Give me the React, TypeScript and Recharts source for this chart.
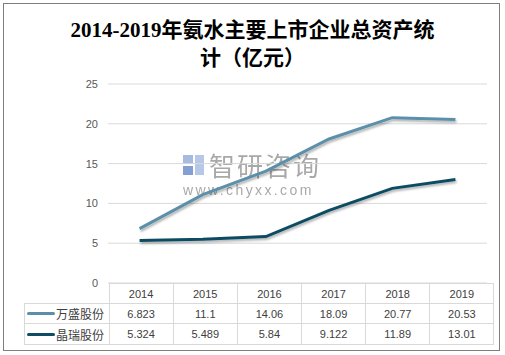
import React from 'react';
import { LineChart, Line, XAxis, YAxis, CartesianGrid } from 'recharts';

const YEARS = ['2014', '2015', '2016', '2017', '2018', '2019'];
const WANSHENG = [6.823, 11.1, 14.06, 18.09, 20.77, 20.53];
const JINGRUI = [5.324, 5.489, 5.84, 9.122, 11.89, 13.01];
const SERIES_NAMES = ['万盛股份', '晶瑞股份'];
const SERIES_COLORS = ['#5b8fa9', '#0d4c63'];
const Y_TICKS = [0, 5, 10, 15, 20, 25];

const data = YEARS.map((year, i) => ({ year, ws: WANSHENG[i], jr: JINGRUI[i] }));
const tableRows = [WANSHENG, JINGRUI];

const W = 505;
const H = 355;
const PLOT_LEFT = 108;
const PLOT_RIGHT = 487;
const PLOT_TOP = 84;
const PLOT_BOTTOM = 283;
const COL_W = (PLOT_RIGHT - PLOT_LEFT) / YEARS.length;
const ROW_H = [20, 20, 21];

const cellBorder = '1px solid #d9d9d9';
const sans = "'Liberation Sans', 'Noto Sans CJK SC', sans-serif";

export default function App() {
  return (
    <div style={{ position: 'absolute', left: 0, top: 0, width: W, height: H, background: '#fff', overflow: 'hidden' }}>
      <div
        style={{
          position: 'absolute', left: 3, top: 3, width: 497, height: 348,
          boxSizing: 'border-box', border: '1px solid #7f7f7f',
        }}
      />
      <div
        style={{
          position: 'absolute', left: 0, top: 16, width: W, textAlign: 'center',
          fontFamily: "'Liberation Serif', 'Noto Sans CJK SC', serif", fontWeight: 'bold',
          fontSize: 21, lineHeight: '28px', color: '#000',
        }}
      >
        <div>2014-2019年氨水主要上市企业总资产统</div>
        <div>计（亿元）</div>
      </div>

      {/* watermark */}
      <div style={{ position: 'absolute', left: 183, top: 153, opacity: 0.75 }}>
        <div style={{ display: 'flex', alignItems: 'center', height: 24 }}>
          <div style={{ width: 22, height: 22, position: 'relative', marginRight: 4 }}>
            <div style={{ position: 'absolute', left: 0, top: 1, width: 10, height: 9, background: '#8aa3d6' }} />
            <div style={{ position: 'absolute', left: 0, top: 12, width: 10, height: 9, background: '#5b7fc4' }} />
            <div style={{ position: 'absolute', left: 12, top: 1, width: 9, height: 20, background: '#9fb5e0' }} />
          </div>
          <span style={{ fontFamily: "'Noto Sans CJK SC'", fontSize: 26, letterSpacing: 2, color: '#8c8c8c', lineHeight: '24px' }}>
            智研咨询
          </span>
        </div>
        <div style={{ fontFamily: sans, fontSize: 14, lineHeight: '14px', letterSpacing: 2.4, color: '#8c8c8c', marginTop: 6 }}>
          www.chyxx.com
        </div>
      </div>

      <div style={{ position: 'absolute', left: 0, top: 0 }}>
        <LineChart
          width={W}
          height={PLOT_BOTTOM + 7}
          data={data}
          margin={{ top: PLOT_TOP, right: W - PLOT_RIGHT, bottom: 7, left: 0 }}
        >
          <defs>
            <filter id="lineShadow" x="-10%" y="-10%" width="120%" height="140%">
              <feDropShadow dx="1" dy="2" stdDeviation="1" floodColor="#000" floodOpacity="0.3" />
            </filter>
          </defs>
          <CartesianGrid vertical={false} stroke="#d9d9d9" />
          <XAxis dataKey="year" hide padding={{ left: COL_W / 2, right: COL_W / 2 }} />
          <YAxis
            domain={[0, 25]}
            ticks={Y_TICKS}
            width={PLOT_LEFT}
            axisLine={false}
            tickLine={false}
            tickMargin={4}
            tick={{ fontSize: 11, fill: '#595959', fontFamily: sans }}
          />
          <Line
            dataKey="ws"
            name={SERIES_NAMES[0]}
            stroke={SERIES_COLORS[0]}
            strokeWidth={3}
            dot={false}
            filter="url(#lineShadow)"
            isAnimationActive={false}
          />
          <Line
            dataKey="jr"
            name={SERIES_NAMES[1]}
            stroke={SERIES_COLORS[1]}
            strokeWidth={3}
            dot={false}
            filter="url(#lineShadow)"
            isAnimationActive={false}
          />
        </LineChart>
      </div>

      {/* data table */}
      <table
        style={{
          position: 'absolute', left: 24, top: PLOT_BOTTOM, borderCollapse: 'collapse',
          tableLayout: 'fixed', fontFamily: sans, fontSize: 11, color: '#404040',
        }}
      >
        <tbody>
          <tr style={{ height: ROW_H[0] }}>
            <td style={{ width: PLOT_LEFT - 24, borderTop: 'hidden', borderLeft: 'hidden', borderRight: cellBorder, borderBottom: cellBorder, padding: 0 }} />
            {YEARS.map((y) => (
              <td key={y} style={{ width: COL_W, border: cellBorder, textAlign: 'center', padding: 0 }}>{y}</td>
            ))}
          </tr>
          {tableRows.map((row, r) => (
            <tr key={r} style={{ height: ROW_H[r + 1] }}>
              <td style={{ border: cellBorder, padding: 0, whiteSpace: 'nowrap' }}>
                <span style={{ display: 'inline-flex', alignItems: 'center', marginLeft: 2 }}>
                  <span
                    style={{
                      display: 'inline-block', width: 28, height: 3, borderRadius: 2,
                      background: SERIES_COLORS[r], marginRight: 1,
                    }}
                  />
                  <span style={{ fontFamily: "'Noto Sans CJK SC'", fontSize: 12, color: '#404040' }}>{SERIES_NAMES[r]}</span>
                </span>
              </td>
              {row.map((v, i) => (
                <td key={i} style={{ border: cellBorder, textAlign: 'center', padding: 0 }}>{String(v)}</td>
              ))}
            </tr>
          ))}
        </tbody>
      </table>
    </div>
  );
}
